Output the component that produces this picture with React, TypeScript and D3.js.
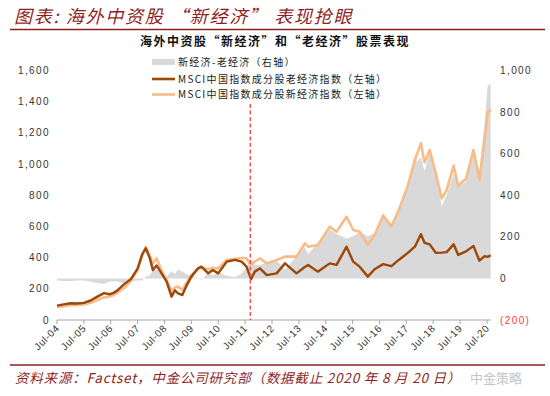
import React from "react";
import * as d3 from "d3";

const dates: string[] = [
  "2004-07-01","2004-10-01","2005-01-01","2005-04-01","2005-07-01","2005-10-01",
  "2006-01-01","2006-04-01","2006-06-15","2006-08-01","2006-10-01","2007-01-01",
  "2007-04-01","2007-07-01","2007-09-01","2007-10-20","2007-12-15","2008-01-25",
  "2008-03-15","2008-05-20","2008-07-30","2008-10-05","2008-11-20","2009-01-01",
  "2009-03-01","2009-04-20","2009-07-01","2009-10-01","2009-11-15","2010-02-15",
  "2010-04-20","2010-07-01","2010-10-25","2011-02-15","2011-05-15","2011-07-20",
  "2011-09-20","2011-11-10","2012-01-20","2012-04-20","2012-09-01","2012-12-25",
  "2013-05-30","2013-09-20","2013-11-05","2014-03-15","2014-08-25","2014-11-25",
  "2015-04-10","2015-07-10","2015-10-05","2016-01-25","2016-04-25","2016-08-20",
  "2016-12-10","2017-03-20","2017-07-20","2017-10-25","2018-01-15","2018-03-05",
  "2018-05-15","2018-08-05","2018-10-25","2018-12-30","2019-04-05","2019-06-05",
  "2019-09-20","2019-12-30","2020-03-20","2020-05-30","2020-07-10","2020-08-20",
];

const oldEconomy: number[] = [
  92,100,107,106,110,125,
  150,172,165,172,190,230,
  262,330,420,460,395,320,
  350,300,246,150,190,170,
  160,214,278,331,342,299,
  320,299,374,385,374,342,
  262,310,331,288,299,363,
  299,340,353,310,363,353,
  470,374,342,278,325,358,
  345,385,430,470,550,495,
  485,430,432,435,485,417,
  440,475,380,410,405,415,
];

const newEconomy: number[] = [
  82,88,95,96,100,110,
  128,145,150,158,175,205,
  250,320,410,468,410,360,
  395,320,256,185,210,214,
  192,235,288,330,335,325,
  335,330,385,392,398,395,
  355,374,395,363,385,406,
  406,491,470,481,598,566,
  662,577,566,481,545,670,
  600,705,860,1026,1133,1010,
  1090,940,780,833,990,860,
  905,1090,900,1160,1330,1350,
];

const leftTicks: number[] = [0, 200, 400, 600, 800, 1000, 1200, 1400, 1600];
const rightTicks: number[] = [-200, 0, 200, 400, 600, 800, 1000];
const tickYears: number[] = [2004,2005,2006,2007,2008,2009,2010,2011,2012,2013,2014,2015,2016,2017,2018,2019,2020];
const dividerDate = "2011-09-10";

const titleText = "图表: 海外中资股 “新经济” 表现抢眼";
const subtitleText = "海外中资股“新经济”和“老经济”股票表现";
const legendLabels = ["新经济-老经济（右轴）", "MSCI中国指数成分股老经济指数（左轴）", "MSCI中国指数成分股新经济指数（左轴）"];
const footerText = "资料来源：Factset，中金公司研究部（数据截止 2020 年 8 月 20 日）";

const C_OLD = "#9A4708";
const C_NEW = "#F8BC88";
const C_GRAY = "#D9D9D9";
const C_RED = "#8E1F1F";

export default function App() {
  const parse = d3.timeParse("%Y-%m-%d");
  const data = dates.map((d, i) => ({
    date: parse(d) as Date,
    oldV: oldEconomy[i],
    newV: newEconomy[i],
    diff: newEconomy[i] - oldEconomy[i],
  }));

  const x = d3.scaleTime()
    .domain([parse("2004-07-01") as Date, parse("2020-07-01") as Date])
    .range([57, 487]);
  const yL = d3.scaleLinear().domain([0, 1600]).range([320, 70.4]);
  const yR = d3.scaleLinear().domain([-200, 1000]).range([320, 70.4]);

  const area = d3.area<any>()
    .x((d) => x(d.date))
    .y0(yR(0))
    .y1((d) => yR(d.diff));
  const lineOld = d3.line<any>().x((d) => x(d.date)).y((d) => yL(d.oldV));
  const lineNew = d3.line<any>().x((d) => x(d.date)).y((d) => yL(d.newV));

  const fmt = (v: number) => (v < 0 ? `(${d3.format(",")(-v)})` : d3.format(",")(v));
  const axisFont = "'Liberation Sans', Arial, sans-serif";
  const cjk = "'Noto Sans CJK SC', sans-serif";
  const xEnd = x(parse("2020-08-20") as Date);
  const divX = x(parse(dividerDate) as Date);

  return (
    <div style={{ position: "absolute", left: 0, top: 0 }}>
      <svg width={550} height={396} style={{ display: "block", background: "#fff" }}>
        {/* title */}
        <text x={14} y={23} fontFamily={cjk} fontStyle="italic" fontSize={18} fill={C_RED} letterSpacing={1.7}>
          {titleText}
        </text>
        <line x1={10} x2={545} y1={29.5} y2={29.5} stroke={C_RED} strokeWidth={1.5} />
        <text x={275} y={46} textAnchor="middle" fontFamily={cjk} fontWeight="bold" fontSize={12} letterSpacing={1.5} fill="#111">
          {subtitleText}
        </text>

        {/* gray diff area */}
        <path d={area(data) || ""} fill={C_GRAY} />

        {/* x axis */}
        <line x1={57} x2={xEnd} y1={320} y2={320} stroke="#A6A6A6" strokeWidth={1} />
        {tickYears.map((yr) => {
          const tx = x(new Date(yr, 6, 1));
          return (
            <g key={yr}>
              <line x1={tx} x2={tx} y1={320} y2={324} stroke="#A6A6A6" />
              <text
                transform={`translate(${tx + 3},${329}) rotate(-45)`}
                textAnchor="end"
                fontFamily={axisFont}
                fontSize={10}
                letterSpacing={0.6}
                fill="#333"
              >
                {`Jul-${String(yr % 100).padStart(2, "0")}`}
              </text>
            </g>
          );
        })}

        {/* left axis labels */}
        {leftTicks.map((v) => (
          <text key={v} x={50} y={yL(v)} dy="0.35em" textAnchor="end" fontFamily={axisFont} fontSize={10} letterSpacing={1.4} fill="#333">
            {fmt(v)}
          </text>
        ))}
        {/* right axis labels */}
        {rightTicks.map((v) => (
          <text key={v} x={500} y={yR(v)} dy="0.35em" textAnchor="start" fontFamily={axisFont} fontSize={10} letterSpacing={1.4} fill={v < 0 ? "#FF3B3B" : "#333"}>
            {fmt(v)}
          </text>
        ))}

        {/* lines */}
        <path d={lineNew(data) || ""} fill="none" stroke={C_NEW} strokeWidth={2.6} strokeLinejoin="round" />
        <path d={lineOld(data) || ""} fill="none" stroke={C_OLD} strokeWidth={2.4} strokeLinejoin="round" />

        {/* divider */}
        <line x1={divX} x2={divX} y1={104} y2={320} stroke="#FF4B4B" strokeWidth={1.4} strokeDasharray="4,2.5" />

        {/* legend */}
        <rect x={152} y={59} width={23} height={6} fill={C_GRAY} />
        <line x1={152} x2={175} y1={79} y2={79} stroke={C_OLD} strokeWidth={2.6} />
        <line x1={152} x2={175} y1={94.5} y2={94.5} stroke={C_NEW} strokeWidth={2.6} />
        {legendLabels.map((t, i) => (
          <text key={i} x={178} y={[62, 79, 94.5][i]} dy="0.35em" fontFamily={cjk} fontSize={10} letterSpacing={1.3} fill="#222">
            {t}
          </text>
        ))}

        {/* footer */}
        <line x1={10} x2={545} y1={365} y2={365} stroke={C_RED} strokeWidth={1.5} />
        <text x={15} y={383} fontFamily={cjk} fontStyle="italic" fontSize={13.5} letterSpacing={0.8} fill={C_RED}>
          {footerText}
        </text>
        <text x={470} y={383} fontFamily={cjk} fontSize={13} fill="#C4C4C4">
          中金策略
        </text>
      </svg>
    </div>
  );
}
